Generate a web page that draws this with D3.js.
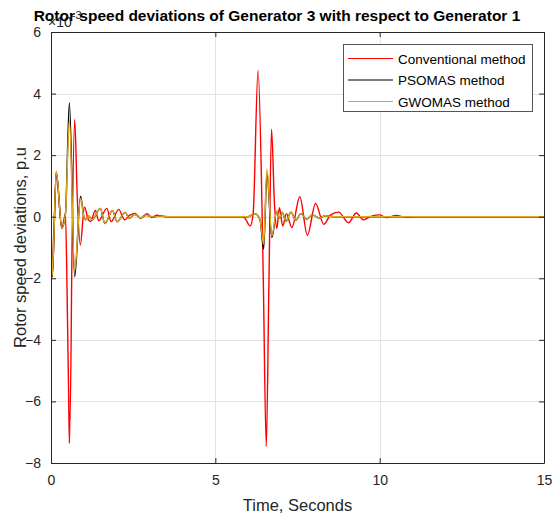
<!DOCTYPE html>
<html>
<head>
<meta charset="utf-8">
<script src="https://cdn.jsdelivr.net/npm/d3@7"></script>
<style>
  body { margin: 0; background: #fff; }
  svg text { font-family: "Liberation Sans", Arial, sans-serif; }
</style>
</head>
<body>
<div id="chart"></div>
<script>
// Values are in units of 1e-3 p.u as [time, value]
const conventional = [
  [0, 0.2], [0.04, -1.9], [0.16, 1.45], [0.33, -0.37], [0.44, 0.08],
  [0.49, -2.5], [0.525, -5.0], [0.53, -5.3], [0.56, -7.36], [0.575, -6.3],
  [0.58, -6.6], [0.64, -1.0], [0.72, 3.16], [0.8, 0.6], [0.89, -0.92],
  [1.02, 0.32], [1.12, -0.05], [1.2, -0.16], [1.35, 0.2], [1.45, -0.13],
  [1.7, 0.27], [1.83, -0.16], [2.06, 0.24], [2.24, -0.1], [2.4, 0.05],
  [2.56, 0.11], [2.72, -0.05], [2.92, 0.1], [3.07, -0.03], [3.22, 0.05],
  [3.45, 0], [5.8, 0], [5.9, -0.05], [6.06, -0.3], [6.15, 0.1],
  [6.3, 4.75], [6.42, 0.3], [6.465, -2.4], [6.47, -2.75], [6.55, -7.46],
  [6.63, -2.2], [6.71, 2.84], [6.8, 0.4], [6.87, -0.38], [6.95, 0.29],
  [7.05, -0.3], [7.16, 0.1], [7.33, -0.35], [7.57, 0.65], [7.8, -0.6],
  [8.05, 0.43], [8.3, -0.25], [8.5, 0.05], [8.75, 0.15], [9.05, -0.2],
  [9.29, 0.12], [9.5, -0.1], [9.75, 0.02], [10.0, 0.06], [10.2, -0.03],
  [10.5, 0.04], [10.8, -0.02], [11.2, 0], [15, 0]
];

const psomas = [
  [0, 0.2], [0.04, -1.95], [0.16, 1.45], [0.33, -0.37], [0.44, 0.1],
  [0.56, 3.7], [0.72, -1.95], [0.9, 0.67], [1.0, 0.0], [1.06, -0.1],
  [1.15, 0.02], [1.25, -0.1], [1.5, 0.27], [1.64, -0.22], [1.87, 0.2],
  [2.01, -0.16], [2.26, 0.14], [2.38, -0.06], [2.55, 0.08], [2.72, -0.04],
  [2.9, 0.05], [3.1, -0.01], [3.3, 0.02], [3.6, 0], [6.0, 0],
  [6.2, 0.1], [6.36, -0.1], [6.47, -1.05], [6.57, 1.42], [6.72, -0.68],
  [6.87, 0.18], [6.95, -0.05], [7.03, 0.15], [7.15, -0.15], [7.3, 0.15],
  [7.45, -0.12], [7.6, 0.1], [7.78, -0.08], [7.95, 0.06], [8.15, -0.04],
  [8.35, 0.03], [8.6, 0], [15, 0]
];

const gwomas = [
  [0, 0.2], [0.04, -1.9], [0.16, 1.48], [0.33, -0.37], [0.44, 0.1],
  [0.56, 3.14], [0.72, -1.75], [0.9, 0.6], [1.0, 0.0], [1.06, -0.1],
  [1.15, 0.02], [1.25, -0.1], [1.5, 0.27], [1.64, -0.22], [1.87, 0.2],
  [2.01, -0.16], [2.26, 0.14], [2.38, -0.06], [2.55, 0.08], [2.72, -0.04],
  [2.9, 0.05], [3.1, -0.01], [3.3, 0.02], [3.6, 0], [6.0, 0],
  [6.2, 0.1], [6.36, -0.1], [6.47, -0.9], [6.57, 1.55], [6.72, -0.62],
  [6.87, 0.18], [6.95, -0.05], [7.03, 0.15], [7.15, -0.15], [7.3, 0.15],
  [7.45, -0.12], [7.6, 0.1], [7.78, -0.08], [7.95, 0.06], [8.15, -0.04],
  [8.35, 0.03], [8.6, 0], [15, 0]
];

const seriesNames = ["Conventional method", "PSOMAS method", "GWOMAS method"];
const seriesColors = ["#ff0000", "#000000", "#e3a81c"];
const xTicks = [0, 5, 10, 15];
const yTicks = [-8, -6, -4, -2, 0, 2, 4, 6];

const W = 558, H = 516;
const plot = {left: 51, right: 544, top: 32, bottom: 463};
const axisColor = "#262626";

const svg = d3.select("#chart").append("svg")
  .attr("width", W)
  .attr("height", H);

const x = d3.scaleLinear().domain([0, 15]).range([plot.left, plot.right]);
const y = d3.scaleLinear().domain([-8, 6]).range([plot.bottom, plot.top]);

// grid
const grid = svg.append("g").attr("stroke", "#e3e3e3").attr("stroke-width", 1);
grid.selectAll(".gx").data(xTicks).enter().append("line")
  .attr("x1", d => Math.round(x(d)) + 0.5).attr("x2", d => Math.round(x(d)) + 0.5)
  .attr("y1", plot.top).attr("y2", plot.bottom);
grid.selectAll(".gy").data(yTicks).enter().append("line")
  .attr("y1", d => Math.round(y(d)) + 0.5).attr("y2", d => Math.round(y(d)) + 0.5)
  .attr("x1", plot.left).attr("x2", plot.right);

// lines
svg.append("clipPath").attr("id", "clip")
  .append("rect")
  .attr("x", plot.left).attr("y", plot.top)
  .attr("width", plot.right - plot.left).attr("height", plot.bottom - plot.top);

const line = d3.line()
  .x(d => x(d[0]))
  .y(d => y(d[1]))
  .curve(d3.curveMonotoneX);

const allSeries = [conventional, psomas, gwomas];
svg.append("g").attr("clip-path", "url(#clip)")
  .selectAll("path").data(allSeries).enter().append("path")
  .attr("d", line)
  .attr("fill", "none")
  .attr("stroke", (d, i) => seriesColors[i])
  .attr("stroke-width", 1.4)
  .attr("stroke-linejoin", "round");

// axes with inward ticks
function styleAxis(g) {
  g.select(".domain").attr("stroke", axisColor);
  g.selectAll(".tick line").attr("stroke", axisColor);
  g.selectAll(".tick text")
    .attr("fill", axisColor)
    .style("font-size", "14px");
}

svg.append("g")
  .attr("transform", `translate(0,${plot.bottom})`)
  .call(d3.axisBottom(x).tickValues(xTicks).tickSizeInner(-5).tickSizeOuter(0).tickPadding(12))
  .call(styleAxis);

svg.append("g")
  .attr("transform", `translate(0,${plot.top})`)
  .call(d3.axisTop(x).tickValues(xTicks).tickSizeInner(-5).tickSizeOuter(0).tickFormat(""))
  .call(styleAxis);

svg.append("g")
  .attr("transform", `translate(${plot.left},0)`)
  .call(d3.axisLeft(y).tickValues(yTicks).tickSizeInner(-5).tickSizeOuter(0).tickPadding(10))
  .call(styleAxis);

svg.append("g")
  .attr("transform", `translate(${plot.right},0)`)
  .call(d3.axisRight(y).tickValues(yTicks).tickSizeInner(-5).tickSizeOuter(0).tickFormat(""))
  .call(styleAxis);

svg.selectAll(".tick text").attr("font-family", null);

// exponent label (sits under the title, as in the original)
const expo = svg.append("text")
  .attr("x", 48).attr("y", 27)
  .attr("fill", axisColor)
  .style("font-size", "14px");
expo.append("tspan").text("\u00d710");
expo.append("tspan").attr("dy", -8).style("font-size", "11px").text("-3");

// title
svg.append("text")
  .attr("x", 277).attr("y", 21)
  .attr("text-anchor", "middle")
  .style("font-size", "15.5px")
  .style("font-weight", "bold")
  .attr("fill", "#000")
  .text("Rotor speed deviations of Generator 3 with respect to Generator 1");

// axis labels
svg.append("text")
  .attr("x", (plot.left + plot.right) / 2).attr("y", 511)
  .attr("text-anchor", "middle")
  .attr("fill", axisColor)
  .style("font-size", "16.5px")
  .text("Time, Seconds");

svg.append("text")
  .attr("transform", "rotate(-90)")
  .attr("x", -(plot.top + plot.bottom) / 2).attr("y", 26)
  .attr("text-anchor", "middle")
  .attr("fill", axisColor)
  .style("font-size", "16.5px")
  .text("Rotor speed deviations, p.u");

// legend
const legend = svg.append("g");
legend.append("rect")
  .attr("x", 343.5).attr("y", 44.5)
  .attr("width", 189).attr("height", 67)
  .attr("fill", "#fff")
  .attr("stroke", "#555")
  .attr("stroke-width", 1);

const rows = legend.selectAll(".row").data(seriesNames).enter().append("g")
  .attr("transform", (d, i) => `translate(0,${58.5 + i * 21.5})`);
rows.append("line")
  .attr("x1", 348).attr("x2", 393)
  .attr("stroke", (d, i) => seriesColors[i])
  .attr("stroke-width", 1.2);
rows.append("text")
  .attr("x", 398).attr("y", 5)
  .attr("fill", "#000")
  .style("font-size", "13.5px")
  .text(d => d);
</script>
</body>
</html>
